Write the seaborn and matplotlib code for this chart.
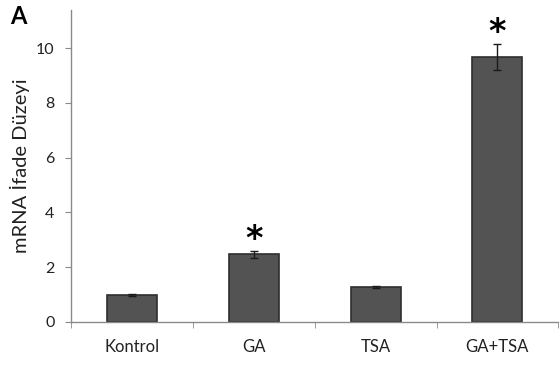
import matplotlib
matplotlib.use("Agg")
import matplotlib.pyplot as plt
import seaborn as sns
import pandas as pd
import numpy as np

groups = ["Kontrol", "GA", "TSA", "GA+TSA"]
expression = [0.98, 2.47, 1.27, 9.67]
errors = [0.05, 0.13, 0.04, 0.48]
significant = [False, True, False, True]

sns.set_style("white")
plt.rcParams["font.family"] = ["Lato", "DejaVu Sans"]

df = pd.DataFrame({"group": groups, "value": expression})

fig = plt.figure(figsize=(5.6, 3.65), dpi=100)
ax = fig.add_axes([0.127, 0.118, 0.87, 0.855])

sns.barplot(data=df, x="group", y="value", ax=ax, color="#535353",
            width=0.41, saturation=1, edgecolor="#2e2e2e", linewidth=1.2,
            errorbar=None)

pos = np.arange(len(groups))
ax.errorbar(pos, expression, yerr=errors, fmt="none", ecolor="#1a1a1a",
            elinewidth=1.0, capsize=3, capthick=1.0)

# significance markers above the error bars
for x, v, e, s in zip(pos, expression, errors, significant):
    if s:
        ax.text(x, v + e + 0.42, "*", ha="center", va="center",
                fontsize=24, color="black", fontweight="bold",
                family="DejaVu Sans")

ax.set_ylim(0, 11.4)
ax.set_xlim(-0.5, len(groups) - 0.5)
ax.set_yticks([0, 2, 4, 6, 8, 10])
ax.set_xlabel("")
ax.set_ylabel("mRNA İfade Düzeyi", fontsize=14.5, color="#222222", labelpad=4)

for side in ["top", "right"]:
    ax.spines[side].set_visible(False)
for side in ["left", "bottom"]:
    ax.spines[side].set_color("#8a8a8a")
    ax.spines[side].set_linewidth(1.0)

ax.tick_params(axis="y", which="major", left=True, length=4, color="#8a8a8a",
               labelsize=11.5, labelcolor="#222222", pad=8)
ax.tick_params(axis="x", which="major", bottom=False, labelsize=12,
               labelcolor="#222222", pad=9)
ax.set_xticks(np.arange(len(groups) + 1) - 0.5, minor=True)
ax.tick_params(axis="x", which="minor", bottom=True, length=4, color="#8a8a8a")

fig.text(0.018, 0.955, "A", fontsize=17, fontweight="bold", color="black",
         ha="left", va="center")

fig.savefig("out.png", dpi=100)
